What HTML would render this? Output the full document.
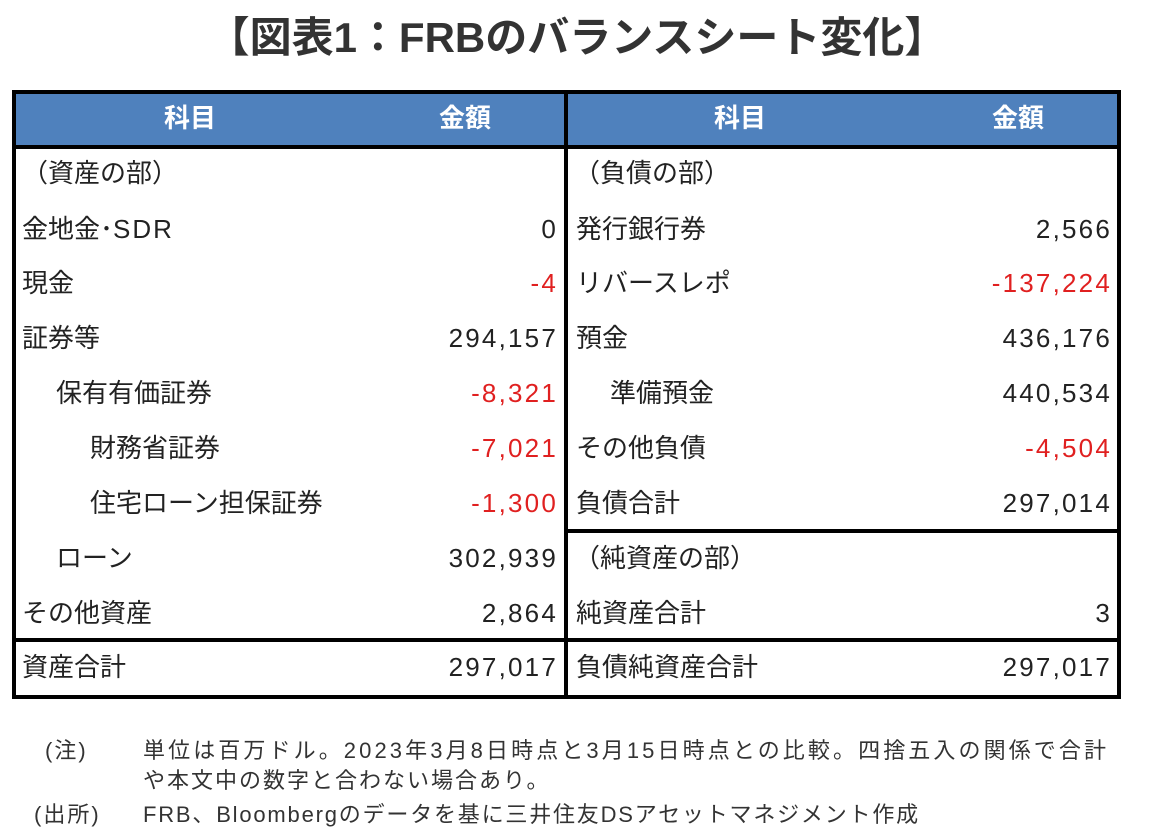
<!DOCTYPE html>
<html><head><meta charset="utf-8"><style>
body{margin:0;width:1154px;height:837px;background:#fff;position:relative;overflow:hidden;font-family:"Liberation Sans","Noto Sans CJK JP",sans-serif;color:#222}
.a{position:absolute;white-space:nowrap}
.t{font-size:26px;line-height:30px}
.r{text-align:right;letter-spacing:2.2px;margin-right:-2px}
.red{color:#e02020}
.h{color:#fff;font-weight:bold;font-size:26px;line-height:30px}
.b{position:absolute;background:#000}
.n{font-size:22px;line-height:28px;color:#333}
</style></head><body>
<div class="a" style="left:0;width:1154px;top:12px;text-align:center;font-size:42px;font-weight:bold;line-height:52px;color:#333">【図表1：FRBのバランスシート変化】</div>

<div style="position:absolute;left:12px;top:92px;width:1108px;height:56px;background:#4f81bd"></div>
<div class="b" style="left:12px;top:90px;width:1109px;height:4px"></div>
<div class="b" style="left:12px;top:145px;width:1109px;height:4px"></div>
<div class="b" style="left:12px;top:695px;width:1109px;height:4px"></div>
<div class="b" style="left:12px;top:638px;width:1109px;height:4px"></div>
<div class="b" style="left:566px;top:529px;width:555px;height:4px"></div>
<div class="b" style="left:12px;top:90px;width:4px;height:609px"></div>
<div class="b" style="left:1117px;top:90px;width:4px;height:609px"></div>
<div class="b" style="left:564px;top:90px;width:4px;height:609px"></div>

<div class="a h" style="left:140px;top:103px;width:100px;text-align:center">科目</div>
<div class="a h" style="left:415px;top:103px;width:100px;text-align:center">金額</div>
<div class="a h" style="left:690px;top:103px;width:100px;text-align:center">科目</div>
<div class="a h" style="left:968px;top:103px;width:100px;text-align:center">金額</div>

<div class="a t" style="left:22px;top:158px">（資産の部）</div>
<div class="a t" style="left:22px;top:214px">金地金･<span style="letter-spacing:2px">SDR</span></div><div class="a t r" style="right:598px;top:214px">0</div>
<div class="a t" style="left:22px;top:268px">現金</div><div class="a t r red" style="right:598px;top:268px">-4</div>
<div class="a t" style="left:22px;top:323px">証券等</div><div class="a t r" style="right:598px;top:323px">294,157</div>
<div class="a t" style="left:56px;top:378px">保有有価証券</div><div class="a t r red" style="right:598px;top:378px">-8,321</div>
<div class="a t" style="left:90px;top:433px">財務省証券</div><div class="a t r red" style="right:598px;top:433px">-7,021</div>
<div class="a t" style="left:90px;top:488px">住宅ローン担保証券</div><div class="a t r red" style="right:598px;top:488px">-1,300</div>
<div class="a t" style="left:56px;top:543px">ローン</div><div class="a t r" style="right:598px;top:543px">302,939</div>
<div class="a t" style="left:22px;top:598px">その他資産</div><div class="a t r" style="right:598px;top:598px">2,864</div>
<div class="a t" style="left:22px;top:652px">資産合計</div><div class="a t r" style="right:598px;top:652px">297,017</div>

<div class="a t" style="left:574px;top:158px">（負債の部）</div>
<div class="a t" style="left:576px;top:214px">発行銀行券</div><div class="a t r" style="right:44px;top:214px">2,566</div>
<div class="a t" style="left:576px;top:268px">リバースレポ</div><div class="a t r red" style="right:44px;top:268px">-137,224</div>
<div class="a t" style="left:576px;top:323px">預金</div><div class="a t r" style="right:44px;top:323px">436,176</div>
<div class="a t" style="left:610px;top:378px">準備預金</div><div class="a t r" style="right:44px;top:378px">440,534</div>
<div class="a t" style="left:576px;top:433px">その他負債</div><div class="a t r red" style="right:44px;top:433px">-4,504</div>
<div class="a t" style="left:576px;top:488px">負債合計</div><div class="a t r" style="right:44px;top:488px">297,014</div>
<div class="a t" style="left:574px;top:543px">（純資産の部）</div>
<div class="a t" style="left:576px;top:598px">純資産合計</div><div class="a t r" style="right:44px;top:598px">3</div>
<div class="a t" style="left:576px;top:652px">負債純資産合計</div><div class="a t r" style="right:44px;top:652px">297,017</div>

<div class="a n" style="left:45px;top:737px;letter-spacing:2px">(注)</div>
<div class="a n" style="left:143px;top:737px;letter-spacing:3.1px">単位は百万ドル。2023年3月8日時点と3月15日時点との比較。四捨五入の関係で合計</div>
<div class="a n" style="left:143px;top:767px;letter-spacing:2px">や本文中の数字と合わない場合あり。</div>
<div class="a n" style="left:34px;top:801px;letter-spacing:2px">(出所)</div>
<div class="a n" style="left:143px;top:801px;letter-spacing:1.8px">FRB、Bloombergのデータを基に三井住友DSアセットマネジメント作成</div>
</body></html>
